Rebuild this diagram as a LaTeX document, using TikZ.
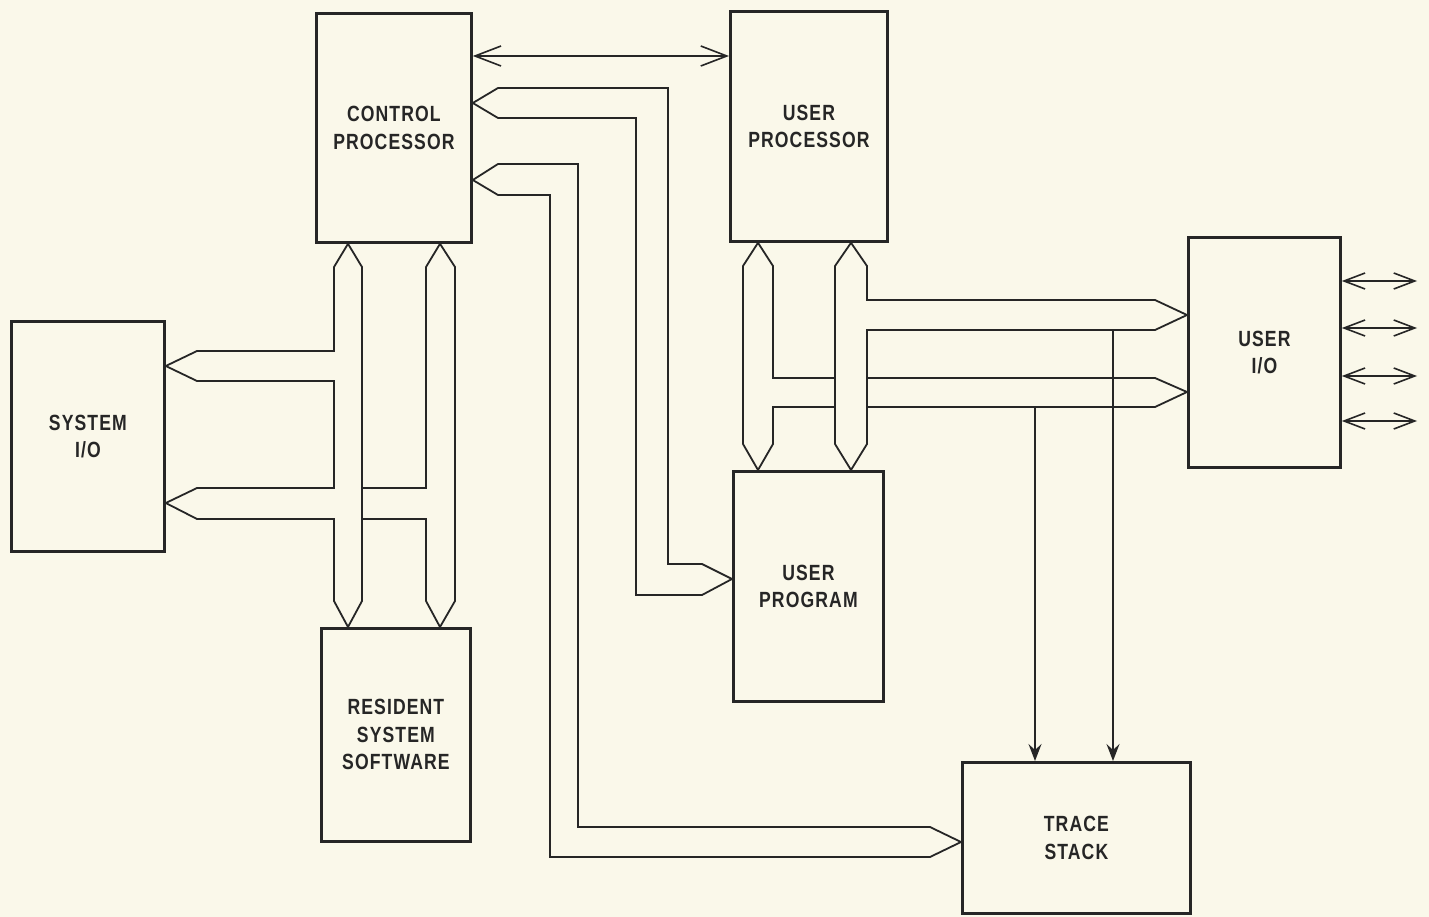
\documentclass[tikz,border=0pt]{standalone}
\usepackage{fontspec}
\setmainfont{Liberation Sans}[FakeStretch=0.8,LetterSpace=5]
\usetikzlibrary{arrows.meta}
\definecolor{paper}{RGB}{250,248,234}
\definecolor{ink}{RGB}{38,38,38}
\begin{document}
\begin{tikzpicture}[x=1pt,y=-1pt,
  box/.style={draw=ink,line width=2.8pt,minimum width=#1,inner sep=0pt,anchor=north west,align=center,
     font=\fontsize{22}{27.5}\selectfont\bfseries,text=ink},
  bus/.style={draw=ink,line width=1.8pt,line join=miter},
  thin/.style={draw=ink,line width=1.6pt},
  bigbarb/.style={thin,{Straight Barb[length=26pt,width=20pt]}-{Straight Barb[length=26pt,width=20pt]}},
  iobarb/.style={thin,{Straight Barb[length=21pt,width=16pt]}-{Straight Barb[length=21pt,width=16pt]}},
  down/.style={thin,-{Stealth[length=17pt,width=13pt,inset=6pt]}}]
\fill[paper] (0,0) rectangle (1429,917);
\useasboundingbox (0,0) rectangle (1429,917);

% boxes
\node[box=155pt,minimum height=229pt] (cp) at (315,12) {CONTROL\\PROCESSOR};
\node[box=157pt,minimum height=230pt] (up) at (729,10) {USER\\PROCESSOR};
\node[box=153pt,minimum height=230pt] (sio) at (10,320) {SYSTEM\\I/O};
\node[box=149pt,minimum height=213pt] (rss) at (320,627) {RESIDENT\\SYSTEM\\SOFTWARE};
\node[box=150pt,minimum height=230pt] (upg) at (732,470) {USER\\PROGRAM};
\node[box=152pt,minimum height=230pt] (uio) at (1187,236) {USER\\I/O};
\node[box=228pt,minimum height=151pt] (ts) at (961,761) {TRACE\\STACK};

% top double arrow
\draw[bigbarb] (cp.east |- 0,56) -- (up.west |- 0,56);

% bus control processor <-> user program
\coordinate (b1a) at (cp.east |- 0,103);
\coordinate (b1b) at (upg.west |- 0,579);
\draw[bus] (b1b) -- (702,564) -- (668,564) -- (668,88) -- (498,88) -- (b1a)
  -- (498,118) -- (636,118) -- (636,595) -- (702,595) -- cycle;

% bus control processor <-> trace stack
\coordinate (b2a) at (cp.east |- 0,180);
\coordinate (b2b) at (ts.west |- 0,842);
\draw[bus] (b2b) -- (930,827) -- (578,827) -- (578,164) -- (498,164) -- (b2a)
  -- (498,195) -- (550,195) -- (550,857) -- (930,857) -- cycle;

% left vertical bus (control processor <-> resident software, system I/O)
\coordinate (l1t) at (cp.south -| 348,0);
\coordinate (l1b) at (rss.north -| 348,0);
\coordinate (s1) at (sio.east |- 0,366);
\coordinate (s2) at (sio.east |- 0,503);
\draw[bus] (l1t) -- (334,267) -- (334,351) -- (197,351) -- (s1) -- (197,381) -- (334,381)
  -- (334,488) -- (197,488) -- (s2) -- (197,519) -- (334,519) -- (334,601) -- (l1b);
\draw[bus] (l1t) -- (362,267) -- (362,601) -- (l1b);

% right vertical bus
\coordinate (l2t) at (cp.south -| 440,0);
\coordinate (l2b) at (rss.north -| 440,0);
\draw[bus] (l2t) -- (426,267) -- (426,488) -- (362,488);
\draw[bus] (362,519) -- (426,519) -- (426,601) -- (l2b);
\draw[bus] (l2t) -- (455,267) -- (455,601) -- (l2b);

% user processor left bus
\coordinate (u1t) at (up.south -| 758,0);
\coordinate (u1b) at (upg.north -| 758,0);
\draw[bus] (u1t) -- (743,266) -- (743,444) -- (u1b);
\draw[bus] (u1t) -- (773,266) -- (773,378) -- (835,378);
\draw[bus] (835,407) -- (773,407) -- (773,444) -- (u1b);

% user processor right bus
\coordinate (u2t) at (up.south -| 851,0);
\coordinate (u2b) at (upg.north -| 851,0);
\coordinate (i1) at (uio.west |- 0,315);
\coordinate (i2) at (uio.west |- 0,392);
\draw[bus] (u2t) -- (835,266) -- (835,444) -- (u2b);
\draw[bus] (u2t) -- (867,266) -- (867,300) -- (1155,300) -- (i1) -- (1155,330) -- (867,330)
  -- (867,444) -- (u2b);
\draw[bus] (867,378) -- (1155,378) -- (i2) -- (1155,407) -- (867,407);

% taps to trace stack
\draw[down] (1113,330) -- (ts.north -| 1113,0);
\draw[down] (1035,407) -- (ts.north -| 1035,0);

% user I/O external lines
\foreach \y/\n in {281/a,328/b,376/c,421/d}{
  \coordinate (x\n) at (1417,\y);
  \draw[iobarb] (uio.east |- 0,\y) -- (x\n);
}
\end{tikzpicture}
\end{document}
